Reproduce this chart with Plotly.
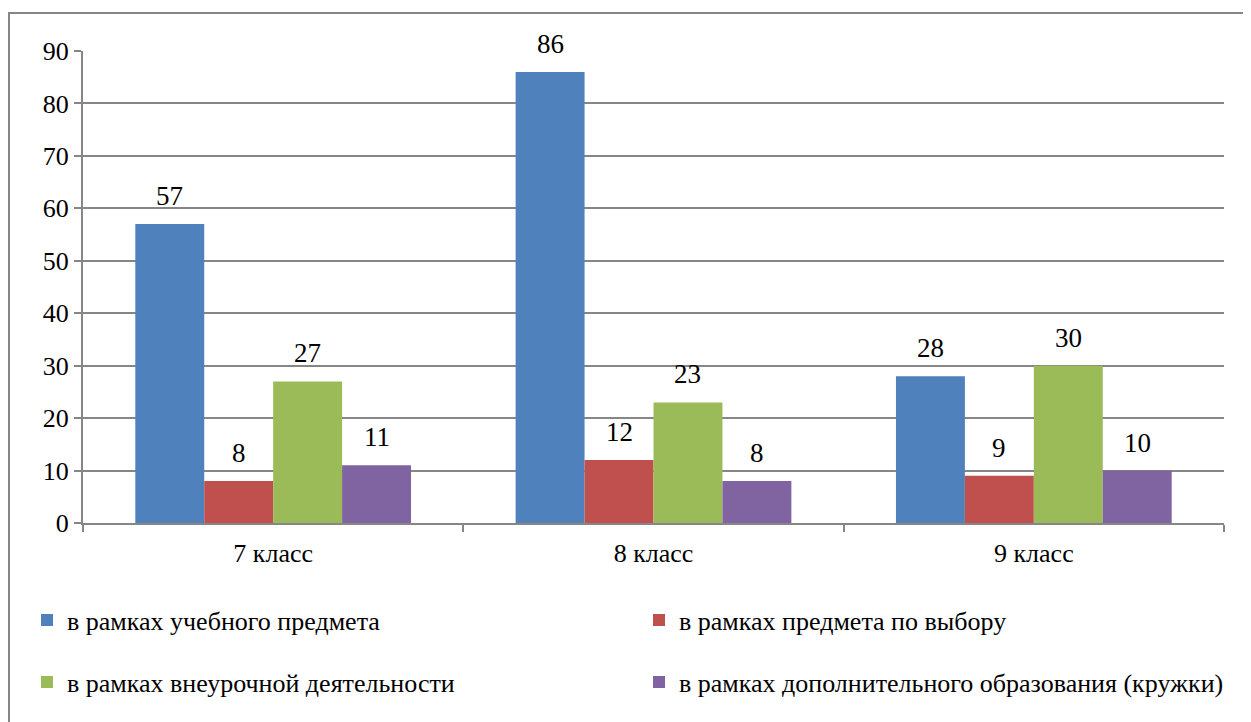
import plotly.graph_objects as go

categories = ["7 класс", "8 класс", "9 класс"]
series_names = [
    "в рамках учебного предмета",
    "в рамках предмета по выбору",
    "в рамках внеурочной деятельности",
    "в рамках дополнительного образования (кружки)",
]
s1 = [57, 86, 28]
s2 = [8, 12, 9]
s3 = [27, 23, 30]
s4 = [11, 8, 10]
all_series = [s1, s2, s3, s4]
colors = ["#4F81BD", "#C0504D", "#9BBB59", "#8064A2"]
y_ticks = [0, 10, 20, 30, 40, 50, 60, 70, 80, 90]

FONT = "Liberation Serif, Times New Roman, Liberation Sans, sans-serif"
OFF = 8  # browser body margin
W, H = 1251 - OFF, 722 - OFF
ml, mr, mt, mb = 83 - OFF, 27, 51 - OFF, 199
plot_w = W - ml - mr
plot_h = H - mt - mb
bargap = 0.275


def px_x(px):
    return (px - OFF - ml) / plot_w


def px_y(py):
    return ((H - mb) - (py - OFF)) / plot_h


fig = go.Figure()
legend_ids = ["legend", "legend2", "legend3", "legend4"]
legend_pos = [(27, 620), (639, 620), (27, 682), (639, 682)]
for name, vals, col, lg in zip(series_names, all_series, colors, legend_ids):
    fig.add_trace(go.Bar(
        x=categories, y=vals, name=name,
        marker=dict(color=col, line=dict(width=0)),
        legend=lg,
    ))

cat_w = plot_w / len(categories)
bar_w = cat_w * (1 - bargap) / len(all_series)
for i, vals in enumerate(all_series):
    off = (i - (len(all_series) - 1) / 2) * bar_w
    for c, v in zip(categories, vals):
        fig.add_annotation(
            x=c, y=v, text=str(v), showarrow=False,
            xshift=off, yshift=11, yanchor="bottom",
            font=dict(family=FONT, size=27, color="black"),
        )

fig.add_shape(
    type="rect", xref="paper", yref="paper",
    x0=px_x(9), x1=px_x(1262), y0=px_y(760), y1=px_y(13),
    line=dict(color="#868686", width=2), fillcolor="rgba(0,0,0,0)", layer="below",
)

legend_cfg = {}
for lg, (lx, ly) in zip(legend_ids, legend_pos):
    legend_cfg[lg] = dict(
        orientation="h", x=px_x(lx), xanchor="left",
        y=px_y(ly), yanchor="middle",
        font=dict(family=FONT, size=26, color="black"),
        bgcolor="rgba(0,0,0,0)", itemwidth=30,
    )

fig.update_layout(
    width=W, height=H,
    margin=dict(l=ml, r=mr, t=mt, b=mb, autoexpand=False),
    paper_bgcolor="white", plot_bgcolor="white",
    barmode="group", bargap=bargap, bargroupgap=0,
    font=dict(family=FONT, size=26, color="black"),
    showlegend=True,
    **legend_cfg,
)

fig.update_xaxes(
    type="category", tickson="boundaries", ticks="outside", ticklen=7,
    tickcolor="#868686", tickwidth=2,
    showline=True, linecolor="#868686", linewidth=2,
    showgrid=False, tickfont=dict(family=FONT, size=26, color="black"),
    ticklabelstandoff=6, automargin=False,
)
fig.update_yaxes(
    range=[0, 90], tickvals=y_ticks, ticktext=[str(t) for t in y_ticks],
    ticks="outside", ticklen=7, tickcolor="#868686", tickwidth=2,
    showline=True, linecolor="#868686", linewidth=2,
    showgrid=True, gridcolor="#868686", gridwidth=2,
    zeroline=False, tickfont=dict(family=FONT, size=26, color="black"),
    automargin=False,
)

fig.write_html("out.html")
